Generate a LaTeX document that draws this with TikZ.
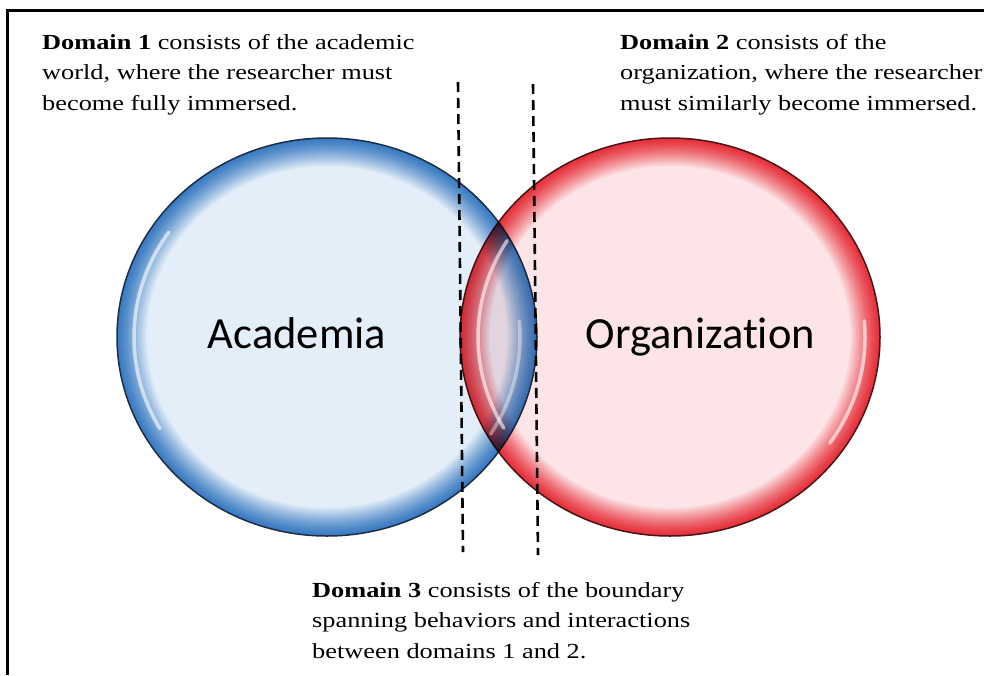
\documentclass[tikz,border=0pt]{standalone}
\usepackage{fontspec}
\setmainfont[FakeStretch=1.225]{Liberation Serif}
\newfontfamily\labelfont[Ligatures=NoCommon]{Carlito}
\usetikzlibrary{shapes.geometric}
\definecolor{bluein}{HTML}{E3EEF8}
\definecolor{blueedge}{HTML}{3A7BC2}
\definecolor{blueline}{HTML}{1C2E44}
\definecolor{redin}{HTML}{FDE4E6}
\definecolor{rededge}{HTML}{E6313B}
\definecolor{redline}{HTML}{4A1414}
% stacked ellipses, darkest at the rim, fading inward
\newcommand{\bubblefill}[4]{%
  \foreach \i in {0,...,30}{%
    \pgfmathsetmacro\pp{100*(\i/30)^1.3}%
    \pgfmathsetmacro\rx{210-\i}%
    \pgfmathsetmacro\ry{199-\i*0.948}%
    \fill[#3!\pp!#4] (#1,#2) ellipse [x radius=\rx, y radius=\ry];
  }}
\tikzset{
  bubble/.style={ellipse, inner sep=0pt, minimum width=420pt, minimum height=398pt, line width=1.5pt},
  shine/.style={white, line width=3.5pt, opacity=0.6, line cap=round},
  desc/.style={anchor=north west, inner sep=0pt, align=left, font=\fontsize{21.5}{30.5}\selectfont},
  biglabel/.style={anchor=base, inner sep=0pt, font=\labelfont\fontsize{44.5}{48}\selectfont},
  divider/.style={black, line width=2.6pt, dash pattern=on 10pt off 6pt},
  frameline/.style={black, line width=3.5pt}
}
\begin{document}
\begin{tikzpicture}[x=1pt,y=-1pt]
\useasboundingbox (0,0) rectangle (984,675);
\fill[white] (0,0) rectangle (984,675);
% frame
\coordinate (fa) at (7.5,675);
\coordinate (fb) at (7.5,10.5);
\coordinate (fc) at (984,10.5);
\draw[frameline] (fa) -- (fb) -- (fc);
% academia bubble
\bubblefill{327}{337}{bluein}{blueedge}
\node[bubble, draw=blueline] (acad) at (327,337) {};
% organization bubble, multiplied over the first as one group
\begin{scope}[blend mode=multiply]
  \begin{scope}[transparency group]
    \begin{scope}[blend mode=normal]
      \bubblefill{670}{337}{redin}{rededge}
      \node[bubble, draw=redline] (org) at (670,337) {};
    \end{scope}
  \end{scope}
\end{scope}
% highlights
\draw[shine] (327,337) ++(150:193 and 183) arc[start angle=150, end angle=215, x radius=193, y radius=183];
\draw[shine, opacity=0.4] (327,337) ++(-5:193 and 183) arc[start angle=-5, end angle=32, x radius=193, y radius=183];
\draw[shine] (670,337) ++(150:192 and 182) arc[start angle=150, end angle=212, x radius=192, y radius=182];
\draw[shine] (670,337) ++(-5:195 and 185) arc[start angle=-5, end angle=35, x radius=195, y radius=185];
% labels
\node[biglabel] (lacad) at (297,348) {Academia};
\node[biglabel] (lorg) at (700.5,348) {Organization};
% dividers
\coordinate (d1a) at (458,82);
\coordinate (d1b) at (463,552);
\coordinate (d2a) at (533,84);
\coordinate (d2b) at (538,555);
\draw[divider] (d1a) -- (d1b);
\draw[divider] (d2a) -- (d2b);
% descriptions
\node[desc] (dom1) at (42,34) {\textbf{Domain 1} consists of the academic\\world, where the researcher must\\become fully immersed.};
\node[desc] (dom2) at (620,34) {\textbf{Domain 2} consists of the\\organization, where the researcher\\must similarly become immersed.};
\node[desc] (dom3) at (312,582) {\textbf{Domain 3} consists of the boundary\\spanning behaviors and interactions\\between domains 1 and 2.};
\end{tikzpicture}
\end{document}
